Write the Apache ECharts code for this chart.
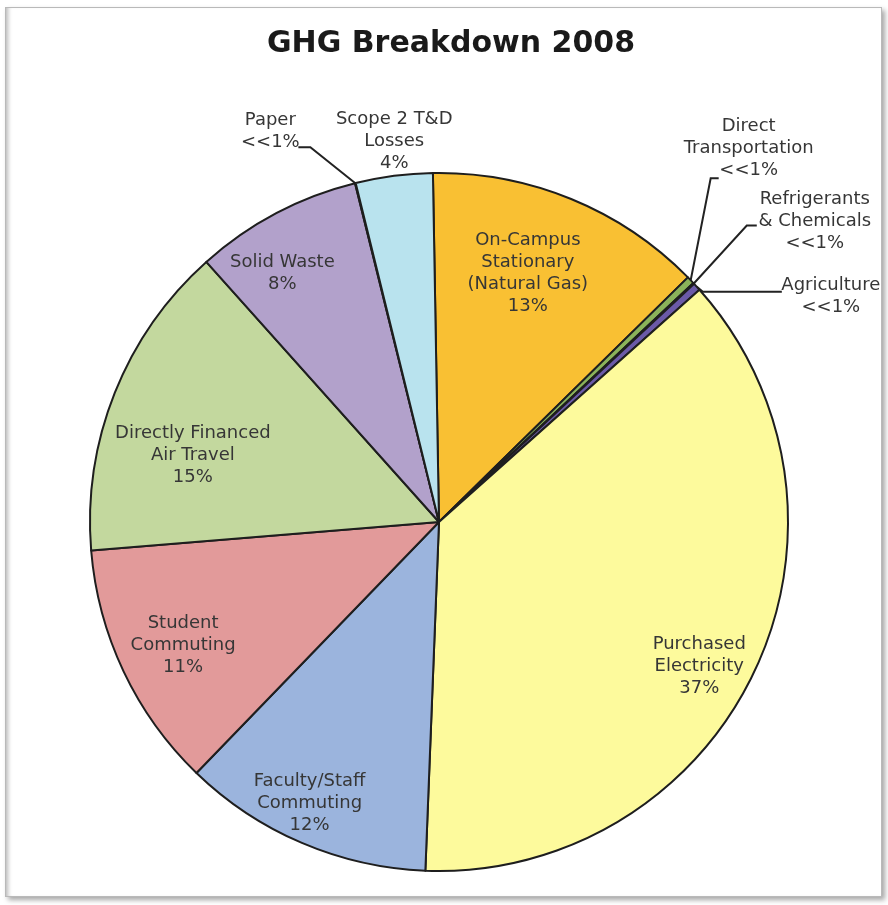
<!DOCTYPE html>
<html>
<head>
<meta charset="utf-8">
<title>GHG Breakdown 2008</title>
<script src="https://cdn.jsdelivr.net/npm/echarts@6/dist/echarts.min.js"></script>
<style>
  html, body { margin: 0; padding: 0; background: #ffffff; }
  #frame {
    position: absolute; left: 5px; top: 7px; width: 877px; height: 890px;
    box-sizing: border-box; border: 1px solid #b9b9b9;
    box-shadow: 3px 3px 5px rgba(0,0,0,0.35), inset 5px 0 4px -3px rgba(0,0,0,0.28);
    background: #ffffff;
  }
  #chart { position: absolute; left: 0; top: 0; width: 888px; height: 905px; }
</style>
</head>
<body>
<div id="frame"></div>
<div id="chart"></div>
<script>
// Emission sources, clockwise from the top of the pie
const categories = [
  'On-Campus\nStationary\n(Natural Gas)',
  'Direct\nTransportation',
  'Refrigerants\n& Chemicals',
  'Agriculture',
  'Purchased\nElectricity',
  'Faculty/Staff\nCommuting',
  'Student\nCommuting',
  'Directly Financed\nAir Travel',
  'Solid Waste',
  'Paper',
  'Scope 2 T&D\nLosses'
];
// Share of total emissions, percent
const shares = [12.92, 0.36, 0.05, 0.36, 37.22, 11.61, 11.47, 14.69, 7.75, 0.03, 3.56];

const palette = ['#F9C033', '#8BB35A', '#4BACC6', '#6B5AA8', '#FDFA9C', '#9BB4DD',
                 '#E29A9A', '#C3D89E', '#B2A1CB', '#D9D9D9', '#B9E3EE'];

// Pie geometry
const CX = 439, CY = 522, R = 349, START = 91;
const total = shares.reduce((a, b) => a + b, 0);

function midAngle(i) {
  let before = 0;
  for (let k = 0; k < i; k++) before += shares[k];
  return START - (before + shares[i] / 2) / total * 360;
}
function polar(deg, rho) {
  const a = deg * Math.PI / 180;
  return [CX + rho * Math.cos(a), CY - rho * Math.sin(a)];
}

// Labels set on the slice: [radius fraction, angle nudge in degrees]
const innerPlacement = {
  0: [0.757, 2.6], 4: [0.853, -3.8], 5: [0.886, -1.6], 6: [0.814, 0.4],
  7: [0.731, 6.5], 8: [0.843, 4.3], 10: [1.099, -0.7]
};
// Labels with leader lines: elbow offset from the rim, horizontal tail, text offset
const leaderPlacement = {
  1: { elbow: [20, -102], tail: 8,   text: [30, -30] },
  2: { elbow: [53, -58],  tail: 10,  text: [58, -4] },
  3: { elbow: [6, 5],     tail: 79,  text: [49, 5] },
  9: { elbow: [-45, -36], tail: -12, text: [-28, -16] }
};

const seriesData = categories.map((name, i) => ({
  name: name,
  value: shares[i],
  itemStyle: { color: palette[i] },
  label: { position: leaderPlacement[i] ? 'outside' : 'inside' },
  labelLine: { show: !!leaderPlacement[i] }
}));

const chart = echarts.init(document.getElementById('chart'), null, { renderer: 'canvas' });
chart.setOption({
  animation: false,
  title: {
    text: 'GHG Breakdown 2008',
    left: 451, top: 29, textAlign: 'center', padding: 0,
    textStyle: { fontFamily: 'DejaVu Sans', fontSize: 30, fontWeight: 'bold', color: '#1a1a1a' }
  },
  series: [{
    type: 'pie',
    center: [CX, CY],
    radius: R,
    startAngle: START,
    clockwise: true,
    avoidLabelOverlap: false,
    data: seriesData,
    itemStyle: { borderColor: '#1e1e1e', borderWidth: 2 },
    label: {
      show: true,
      fontFamily: 'DejaVu Sans',
      fontSize: 18,
      lineHeight: 22,
      color: '#363636',
      formatter: p => p.name + '\n' + (p.percent < 1 ? '<<1%' : Math.round(p.percent) + '%')
    },
    labelLine: { show: true, length: 10, length2: 10, lineStyle: { color: '#222222', width: 2 } },
    emphasis: { disabled: true },
    labelLayout: function (params) {
      const i = params.dataIndex;
      if (innerPlacement[i]) {
        const f = innerPlacement[i][0], nudge = innerPlacement[i][1];
        const pt = polar(midAngle(i) + nudge, R * f);
        return { x: pt[0], y: pt[1], align: 'center', verticalAlign: 'middle' };
      }
      const p = leaderPlacement[i];
      const rim = polar(midAngle(i), R);
      const elbow = [rim[0] + p.elbow[0], rim[1] + p.elbow[1]];
      const end = [elbow[0] + p.tail, elbow[1]];
      return {
        x: end[0] + p.text[0], y: end[1] + p.text[1],
        align: 'center', verticalAlign: 'middle',
        labelLinePoints: [rim, elbow, end]
      };
    }
  }]
});
</script>
</body>
</html>
